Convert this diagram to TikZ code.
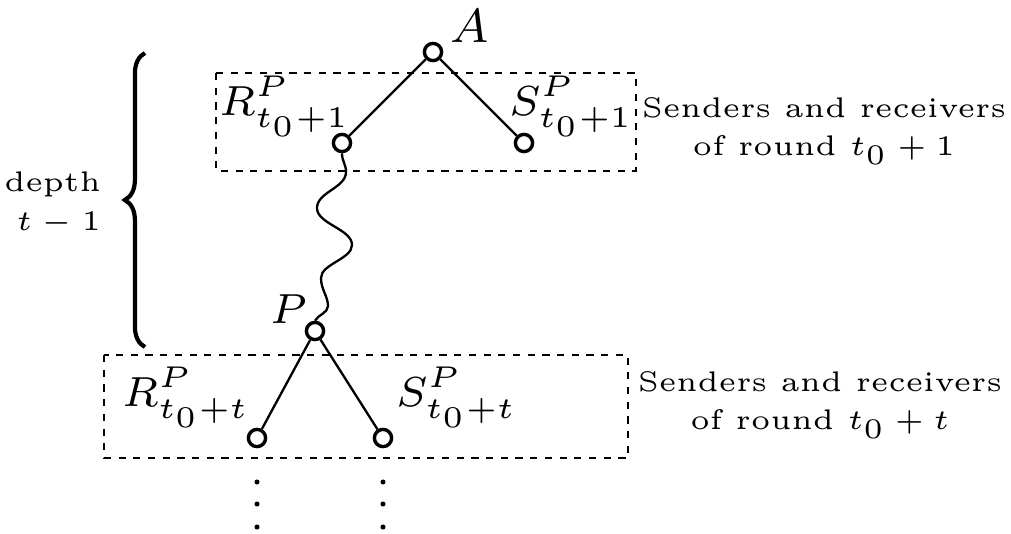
\documentclass[tikz,border=0pt]{standalone}
\usepackage{amsmath}
\usetikzlibrary{positioning,decorations.pathreplacing}
\tikzset{
  vtx/.style  = {circle, draw, fill=white, line width=0.8pt, inner sep=0pt, minimum size=4.1pt},
  edg/.style  = {line width=0.55pt},
  grp/.style  = {line width=0.6pt, dash pattern=on 1.7pt off 1.8pt},
  lab/.style  = {inner sep=0pt, anchor=base west, scale=1.43, font=\fontsize{7}{8}\selectfont},
  note/.style = {inner sep=0pt, align=center, scale=1.35, font=\fontsize{5}{6.8}\selectfont},
  brc/.style  = {line width=1pt, decorate, decoration={brace, amplitude=4.8pt}},
}

\begin{document}
\begin{tikzpicture}[x=0.2381pt, y=-0.2381pt]
  \useasboundingbox (0,0) rectangle (1011,534);

  % round t0+1
  \draw[grp] (216,73) rectangle (636,171);
  \node[vtx] (a)  at (433,52)  {};
  \node[vtx] (r1) at (342,143) {};
  \node[vtx] (s1) at (524,143) {};
  \node[lab, font=\fontsize{8.5}{10}\selectfont] (la) at (449,42) {$A$};
  \node[lab] (lr1) at (218,115) {$R^P_{t_0+1}$};
  \node[lab] (ls1) at (508,115) {$S^P_{t_0+1}$};
  \draw[edg] (a) -- (r1);
  \draw[edg] (a) -- (s1);

  % round t0+t
  \draw[grp] (104,355) rectangle (628,458);
  \node[vtx] (p)  at (315,331) {};
  \node[vtx] (r2) at (257,438) {};
  \node[vtx] (s2) at (383,438) {};
  \node[lab] (lp)  at (269,323) {$P$};
  \node[lab] (lr2) at (121,406) {$R^P_{t_0+t}$};
  \node[lab] (ls2) at (395,406) {$S^P_{t_0+t}$};
  \draw[edg] (p) -- (r2);
  \draw[edg] (p) -- (s2);

  % path of depth t-1
  \draw[edg] (r1.south) .. controls +(0,8) and +(0,-8) .. (346,172)
    .. controls +(0,16) and +(0,-16) .. (317,208)
    .. controls +(0,16) and +(0,-16) .. (352,245)
    .. controls +(0,14) and +(0,-14) .. (321,278)
    .. controls +(0,12) and +(0,-10) .. (328,306)
    .. controls +(0,7) and +(3,-6) .. (p.north);

  % dots below
  \foreach \x in {257,383}
    \foreach \y in {482,504,527}
      \fill (\x,\y) circle (0.6pt);

  % side notes
  \node[note, anchor=north] (n1) at (824,96) {Senders and receivers\\of round $t_0+1$};
  \node[note, anchor=north] (n2) at (820,370) {Senders and receivers\\of round $t_0+t$};

  % depth brace
  \coordinate (bb) at (145,347);
  \coordinate (bt) at (145,53);
  \draw[brc] (bb) -- (bt);
  \node[note, anchor=north east, align=right] (dp) at (102,171) {depth\\$t-1$};
\end{tikzpicture}
\end{document}
